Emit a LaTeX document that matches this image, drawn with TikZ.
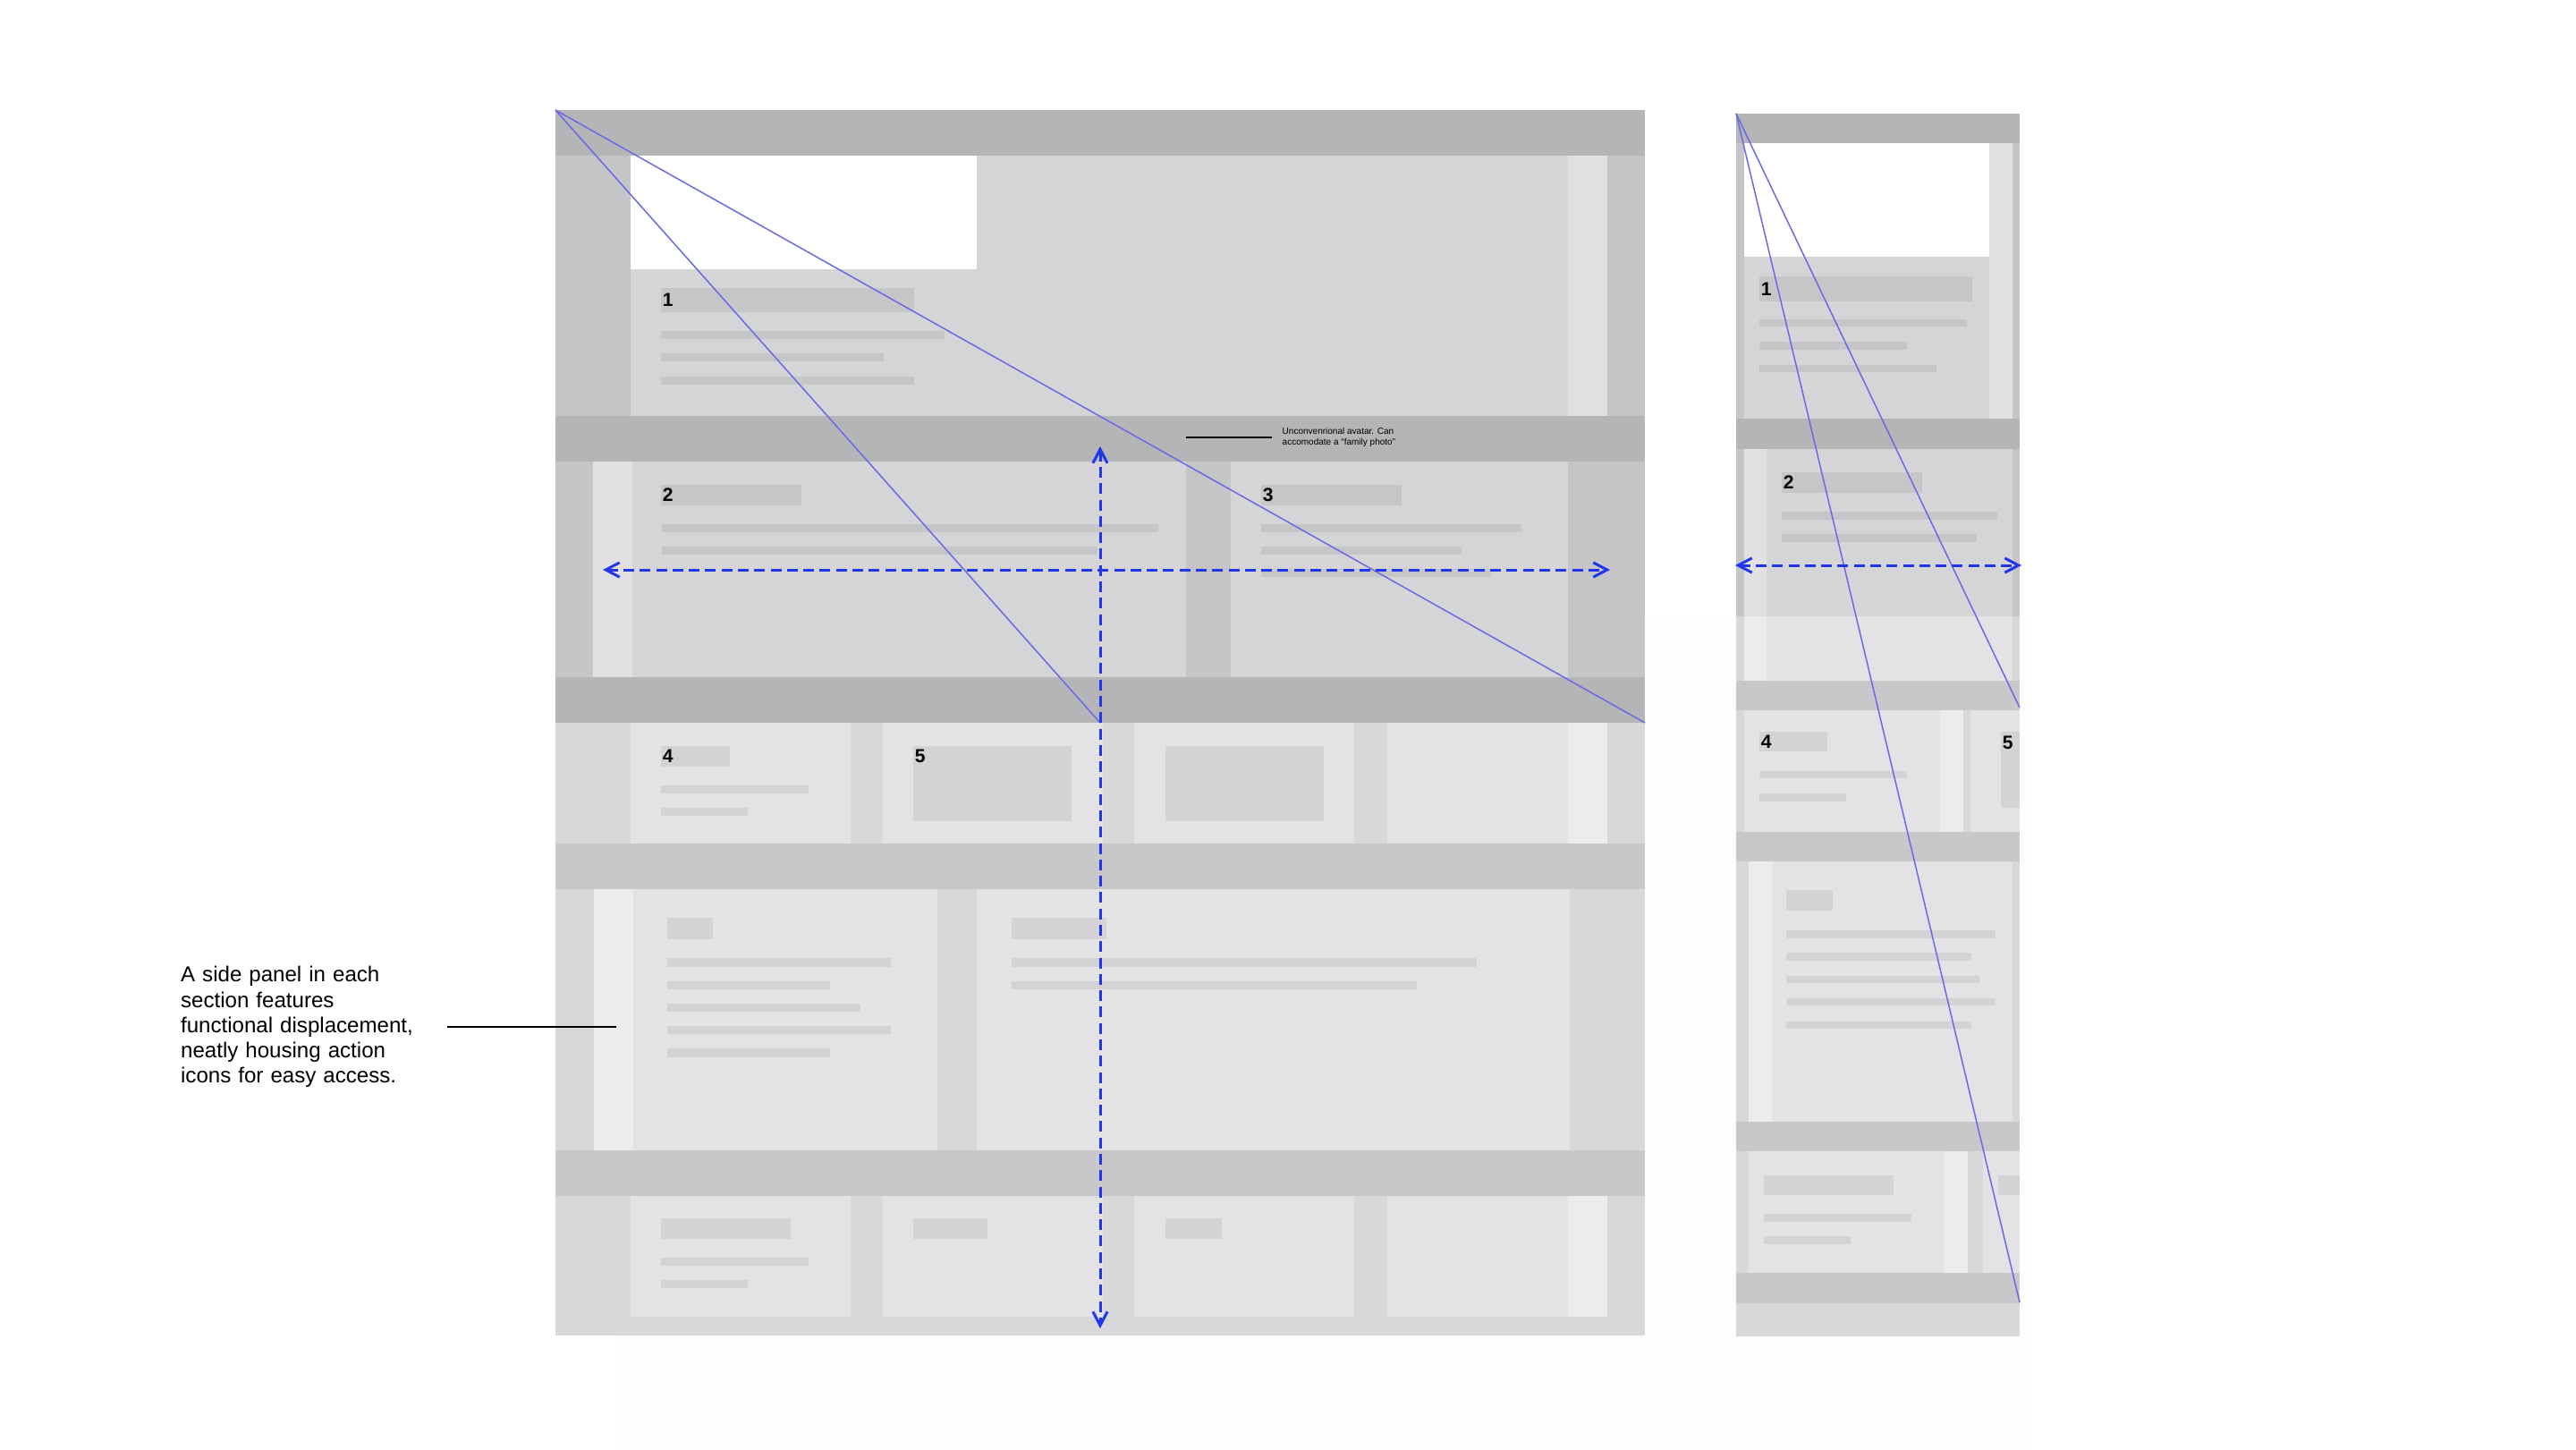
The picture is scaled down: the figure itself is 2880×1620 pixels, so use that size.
\documentclass[tikz,border=0pt]{standalone}
\usepackage{fontspec}
\setmainfont{Liberation Sans}
\usepackage{tikz}
\usetikzlibrary{positioning}
\usetikzlibrary{arrows.meta}
\definecolor{bardk}{HTML}{B5B5B7}
\definecolor{sidedk}{HTML}{C5C5C7}
\definecolor{blockdk}{HTML}{D5D5D7}
\definecolor{stripedk}{HTML}{E1E1E3}
\definecolor{holderdk}{HTML}{C6C6C8}
\definecolor{barlt}{HTML}{C8C8CA}
\definecolor{sidelt}{HTML}{D8D8DA}
\definecolor{cardlt}{HTML}{E3E3E5}
\definecolor{stripelt}{HTML}{ECECEE}
\definecolor{holderlt}{HTML}{D3D3D5}
\definecolor{haze}{HTML}{FDFDFD}
\definecolor{guideblue}{HTML}{6A6AE4}
\definecolor{arrowblue}{HTML}{2035F0}
\tikzstyle{topbar} = [fill=bardk]
\tikzstyle{side} = [fill=sidedk]
\tikzstyle{block} = [fill=blockdk]
\tikzstyle{stripe} = [fill=stripedk]
\tikzstyle{holder} = [fill=holderdk]
\tikzstyle{lowbar} = [fill=barlt]
\tikzstyle{sidelow} = [fill=sidelt]
\tikzstyle{card} = [fill=cardlt]
\tikzstyle{stripelow} = [fill=stripelt]
\tikzstyle{holderlow} = [fill=holderlt]
\tikzstyle{guide} = [draw=guideblue, line width=0.43pt]
\tikzstyle{arrow} = [draw=arrowblue, line width=0.85pt, dash pattern=on 3.4pt off 1.8pt, >={Straight Barb[length=4.4pt,width=4.6pt]}, <->]
\tikzstyle{pointer} = [draw=black, line width=0.5pt]
\tikzstyle{number} = [anchor=west, inner sep=0.3pt, font=\bfseries\fontsize{6}{7}\selectfont]
\tikzstyle{note} = [align=left, inner sep=0pt, font=\fontsize{6.85}{8}\selectfont]
\tikzstyle{smallnote} = [align=left, inner sep=0pt, inner xsep=0.11cm, font=\fontsize{2.85}{3.25}\selectfont]

\begin{document}
\begin{tikzpicture}[x=0.01cm, y=-0.01cm]
	\fill[white] (0,0) rectangle (2880,1620);
	\useasboundingbox (0,0) rectangle (2880,1620);
	\fill[haze] (689,689) rectangle (2271,1620);
	% main layout
	\fill[topbar] (621,123) rectangle (1839,174);
	\fill[side] (621,174) rectangle (1839,465);
	\fill[block] (705,174) rectangle (1753,465);
	\fill[stripe] (1753,174) rectangle (1797,465);
	\fill[white] (705,174) rectangle (1092,301);
	\fill[holder] (739,322) rectangle (1022,349);
	\fill[holder] (739,370) rectangle (1056,379);
	\fill[holder] (739,395) rectangle (988,404);
	\fill[holder] (739,421) rectangle (1022,430);
	\fill[topbar] (621,465) rectangle (1839,516);
	\fill[side] (621,516) rectangle (1839,757);
	\fill[stripe] (663,516) rectangle (707,757);
	\fill[block] (707,516) rectangle (1326,757);
	\fill[block] (1376,516) rectangle (1753,757);
	\fill[holder] (739,542) rectangle (896,565);
	\fill[holder] (740,586) rectangle (1295,595);
	\fill[holder] (740,611) rectangle (1227,620);
	\fill[holder] (1410,542) rectangle (1567,565);
	\fill[holder] (1410,586) rectangle (1701,595);
	\fill[holder] (1410,611) rectangle (1634,620);
	\fill[holder] (1410,636) rectangle (1667,645);
	\fill[topbar] (621,757) rectangle (1839,808);
	\fill[sidelow] (621,808) rectangle (1839,943);
	\fill[card] (705,808) rectangle (951,943);
	\fill[card] (987,808) rectangle (1233,943);
	\fill[card] (1268,808) rectangle (1514,943);
	\fill[card] (1551,808) rectangle (1753,943);
	\fill[stripelow] (1753,808) rectangle (1797,943);
	\fill[holderlow] (739,834) rectangle (816,857);
	\fill[holderlow] (739,878) rectangle (904,887);
	\fill[holderlow] (739,903) rectangle (836,912);
	\fill[holderlow] (1021,834) rectangle (1198,918);
	\fill[holderlow] (1303,834) rectangle (1480,918);
	\fill[lowbar] (621,943) rectangle (1839,994);
	\fill[sidelow] (621,994) rectangle (1839,1286);
	\fill[stripelow] (664,994) rectangle (708,1286);
	\fill[card] (708,994) rectangle (1048,1286);
	\fill[card] (1092,994) rectangle (1755,1286);
	\fill[holderlow] (746,1026) rectangle (797,1050);
	\fill[holderlow] (746,1071) rectangle (996,1081);
	\fill[holderlow] (746,1097) rectangle (928,1106);
	\fill[holderlow] (746,1122) rectangle (962,1131);
	\fill[holderlow] (746,1147) rectangle (996,1156);
	\fill[holderlow] (746,1172) rectangle (928,1182);
	\fill[holderlow] (1131,1026) rectangle (1237,1050);
	\fill[holderlow] (1131,1071) rectangle (1651,1081);
	\fill[holderlow] (1131,1097) rectangle (1584,1106);
	\fill[lowbar] (621,1286) rectangle (1839,1337);
	\fill[sidelow] (621,1337) rectangle (1839,1493);
	\fill[card] (705,1337) rectangle (951,1472);
	\fill[card] (987,1337) rectangle (1233,1472);
	\fill[card] (1268,1337) rectangle (1514,1472);
	\fill[card] (1551,1337) rectangle (1753,1472);
	\fill[stripelow] (1753,1337) rectangle (1797,1472);
	\fill[holderlow] (739,1362) rectangle (884,1385);
	\fill[holderlow] (739,1406) rectangle (904,1415);
	\fill[holderlow] (739,1431) rectangle (836,1440);
	\fill[holderlow] (1021,1362) rectangle (1104,1385);
	\fill[holderlow] (1303,1362) rectangle (1366,1385);
	% narrow layout
	\fill[topbar] (1941,127) rectangle (2258,160);
	\fill[side] (1941,160) rectangle (2258,468);
	\fill[block] (1950,160) rectangle (2224,468);
	\fill[white] (1950,160) rectangle (2224,287);
	\fill[stripe] (2224,160) rectangle (2250,468);
	\fill[holder] (1967,309) rectangle (2205,337);
	\fill[holder] (1967,357) rectangle (2199,365);
	\fill[holder] (1967,382) rectangle (2132,391);
	\fill[holder] (1967,408) rectangle (2165,416);
	\fill[topbar] (1941,468) rectangle (2258,502);
	\fill[side] (1941,502) rectangle (2258,689);
	\fill[stripe] (1950,502) rectangle (1975,689);
	\fill[block] (1975,502) rectangle (2250,689);
	\fill[sidelow] (1941,689) rectangle (2258,761);
	\fill[stripelow] (1950,689) rectangle (1975,761);
	\fill[card] (1975,689) rectangle (2250,761);
	\fill[holder] (1992,528) rectangle (2149,551);
	\fill[holder] (1992,572) rectangle (2233,581);
	\fill[holder] (1992,597) rectangle (2210,606);
	\fill[lowbar] (1941,761) rectangle (2258,794);
	\fill[sidelow] (1941,794) rectangle (2258,930);
	\fill[card] (1950,794) rectangle (2169,930);
	\fill[stripelow] (2169,794) rectangle (2195,930);
	\fill[card] (2203,794) rectangle (2258,930);
	\fill[holderlow] (1967,818) rectangle (2043,840);
	\fill[holderlow] (1967,862) rectangle (2132,870);
	\fill[holderlow] (1967,887) rectangle (2064,896);
	\fill[holderlow] (2237,818) rectangle (2258,903);
	\fill[lowbar] (1941,930) rectangle (2258,963);
	\fill[sidelow] (1941,963) rectangle (2258,1254);
	\fill[stripelow] (1955,963) rectangle (1981,1254);
	\fill[card] (1981,963) rectangle (2250,1254);
	\fill[holderlow] (1997,995) rectangle (2049,1018);
	\fill[holderlow] (1997,1040) rectangle (2231,1049);
	\fill[holderlow] (1997,1065) rectangle (2204,1074);
	\fill[holderlow] (1997,1091) rectangle (2213,1099);
	\fill[holderlow] (1997,1116) rectangle (2231,1124);
	\fill[holderlow] (1997,1142) rectangle (2204,1150);
	\fill[lowbar] (1941,1254) rectangle (2258,1287);
	\fill[sidelow] (1941,1287) rectangle (2258,1423);
	\fill[card] (1955,1287) rectangle (2174,1423);
	\fill[stripelow] (2174,1287) rectangle (2200,1423);
	\fill[card] (2217,1287) rectangle (2258,1423);
	\fill[holderlow] (1972,1314) rectangle (2117,1336);
	\fill[holderlow] (1972,1357) rectangle (2137,1366);
	\fill[holderlow] (1972,1382) rectangle (2069,1391);
	\fill[holderlow] (2234,1314) rectangle (2258,1336);
	\fill[lowbar] (1941,1423) rectangle (2258,1457);
	\fill[sidelow] (1941,1457) rectangle (2258,1494);
	% numbers
	\node (n1) [number] at (739,335.5) {1};
	\node (n2) [number] at (739,553.5) {2};
	\node (n3) [number] at (1410,553.5) {3};
	\node (n4) [number] at (739,845.5) {4};
	\node (n5) [number] at (1021,845.5) {5};
	\node (r1) [number] at (1967,323) {1};
	\node (r2) [number] at (1992,539.5) {2};
	\node (r4) [number] at (1967,829) {4};
	\node (r5) [number] at (2237,830) {5};
	% guides
	\coordinate (mo) at (621,123);
	\coordinate (ma) at (1839,808);
	\coordinate (mb) at (1230,808);
	\coordinate (ro) at (1941,127);
	\coordinate (ra) at (2258,791);
	\coordinate (rb) at (2258,1456);
	\draw[guide] (mo) -- (ma);
	\draw[guide] (mo) -- (mb);
	\draw[guide] (ro) -- (ra);
	\draw[guide] (ro) -- (rb);
	\coordinate (hl) at (674,637);
	\coordinate (hr) at (1800,637);
	\coordinate (vt) at (1230,499);
	\coordinate (vb) at (1230,1485);
	\coordinate (nl) at (1940,632);
	\coordinate (nr) at (2260,632);
	\draw[arrow] (hl) -- (hr);
	\draw[arrow] (vt) -- (vb);
	\draw[arrow] (nl) -- (nr);
	% notes
	\node (an) [smallnote, anchor=west] at (1422,489) {Unconvenrional avatar. Can\\accomodate a “family photo”};
	\coordinate (ap) at (1326,489);
	\draw[pointer] (ap) -- (an);
	\node (sn) [note, text width=2.97cm, anchor=east] at (500,1148) {A side panel in each\\section features\\functional displacement,\\neatly housing action\\icons for easy access.};
	\coordinate (sp) at (689,1148);
	\draw[pointer] (sn) -- (sp);
\end{tikzpicture}
\end{document}
